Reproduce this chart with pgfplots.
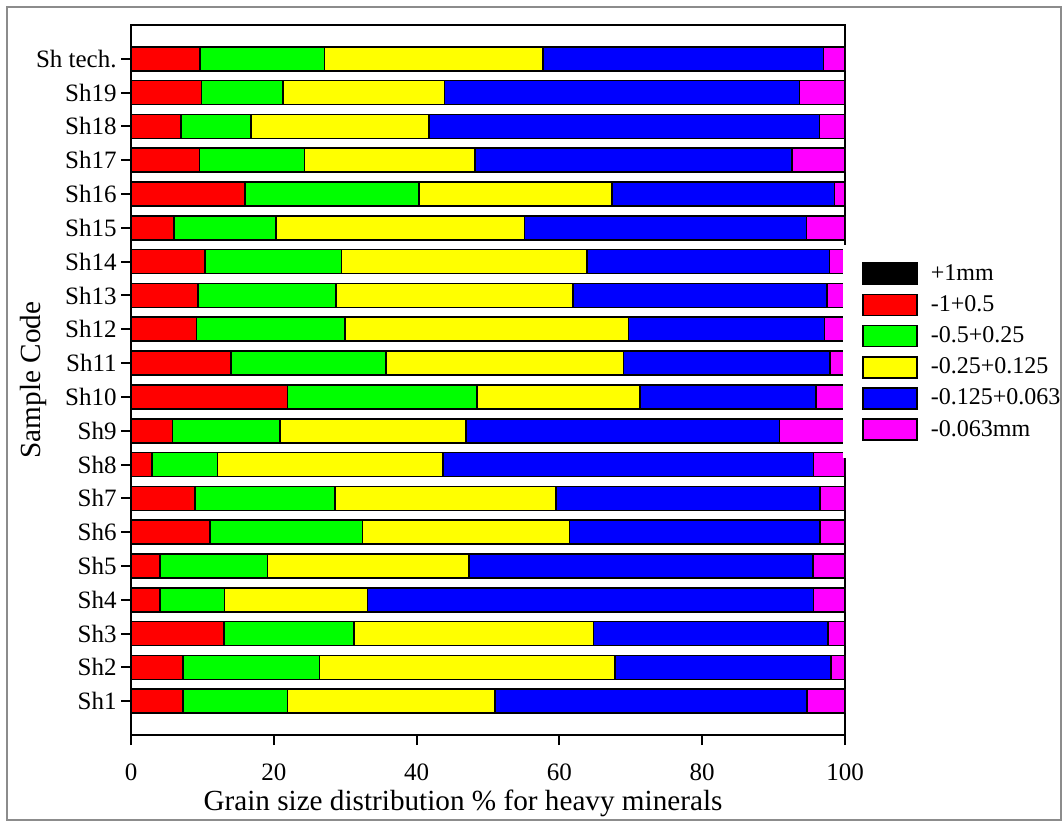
\documentclass[border=0pt]{standalone}
\usepackage{pgfplots}
\pgfplotsset{compat=1.18}
\usepackage{pgfplotstable}
\usepackage{fontspec}
\setmainfont{Liberation Serif}

\pgfplotstableread{
idx r g y b m
1 7.3 14.6 29.1 43.7 5.3
2 7.3 19.1 41.4 30.2 2.0
3 13.0 18.2 33.6 32.8 2.4
4 4.1 9.0 20.0 62.5 4.4
5 4.1 15.0 28.2 48.2 4.5
6 11.1 21.3 29.0 35.1 3.5
7 9.0 19.6 30.9 37.0 3.5
8 2.9 9.2 31.6 51.9 4.4
9 5.8 15.1 26.0 43.9 9.2
10 21.9 26.6 22.8 24.6 4.1
11 14.0 21.7 33.3 28.9 2.1
12 9.2 20.8 39.7 27.4 2.9
13 9.4 19.3 33.2 35.6 2.5
14 10.4 19.1 34.4 33.9 2.2
15 6.0 14.3 34.8 39.5 5.4
16 16.0 24.3 27.1 31.1 1.5
17 9.6 14.7 23.9 44.4 7.4
18 7.0 9.8 24.9 54.7 3.6
19 9.9 11.4 22.6 49.7 6.4
20 9.7 17.4 30.6 39.3 3.0
}\data

\definecolor{cred}{RGB}{255,0,0}
\definecolor{cgreen}{RGB}{0,255,0}
\definecolor{cyellow}{RGB}{255,255,0}
\definecolor{cblue}{RGB}{0,0,255}
\definecolor{cmag}{RGB}{255,0,255}

\pgfplotsset{
  mybar/.style={draw=black, line width=0.8pt,
    legend image code/.code={\draw[##1] (0pt,-5.25pt) rectangle (27pt,5.25pt);}},
}

\begin{document}
\begin{tikzpicture}[x=1pt,y=1pt]
\useasboundingbox (0,0) rectangle (531.5,410.5);
\begin{axis}[
  at={(65.5pt,43pt)}, anchor=south west,
  scale only axis, width=357pt, height=355pt,
  xbar stacked, bar width=0.71,
  xmin=0, xmax=100, ymin=0, ymax=21,
  xtick={0,20,40,60,80,100}, ytick={1,...,20},
  yticklabels={Sh1,Sh2,Sh3,Sh4,Sh5,Sh6,Sh7,Sh8,Sh9,Sh10,Sh11,Sh12,Sh13,Sh14,Sh15,Sh16,Sh17,Sh18,Sh19,Sh tech.},
  tick align=outside, xtick pos=bottom, ytick pos=left,
  major tick length=5pt,
  every tick/.style={black, line width=1pt},
  axis line style={line width=1pt},
  /pgf/number format/assume math mode=true,
  tick label style={font=\fontsize{12.5}{14}\selectfont},
  yticklabel style={inner sep=2pt},
  xticklabel style={inner sep=2pt, yshift=-7pt},
  label style={font=\fontsize{14.6}{17}\selectfont},
  xlabel={Grain size distribution \% for heavy minerals},
  ylabel={Sample Code},
  xlabel style={at={(axis description cs:0.465,-0.0958)}, anchor=center},
  ylabel style={at={(axis description cs:-0.137,0.5)}, anchor=center},
  legend style={draw=none, fill=white, at={(0.997,0.54)}, anchor=west,
    inner xsep=9.5pt, inner ysep=7pt, row sep=1.1pt,
    font=\fontsize{12}{14}\selectfont,
    nodes={text height=9pt, text depth=2.5pt, inner sep=1.5pt, anchor=west}},
  legend cell align=left,
  /tikz/every odd column/.append style={column sep=5pt},
]
\addlegendimage{mybar, fill=black}
\addplot[mybar, fill=cred] table[x=r, y=idx]{\data};
\addplot[mybar, fill=cgreen] table[x=g, y=idx]{\data};
\addplot[mybar, fill=cyellow] table[x=y, y=idx]{\data};
\addplot[mybar, fill=cblue] table[x=b, y=idx]{\data};
\addplot[mybar, fill=cmag] table[x=m, y=idx]{\data};
\legend{+1mm,-1+0.5,-0.5+0.25,-0.25+0.125,-0.125+0.063,-0.063mm}
\end{axis}
\draw[black!45, line width=0.8pt] (3.5,0.5) rectangle (530.5,407);
\end{tikzpicture}
\end{document}
